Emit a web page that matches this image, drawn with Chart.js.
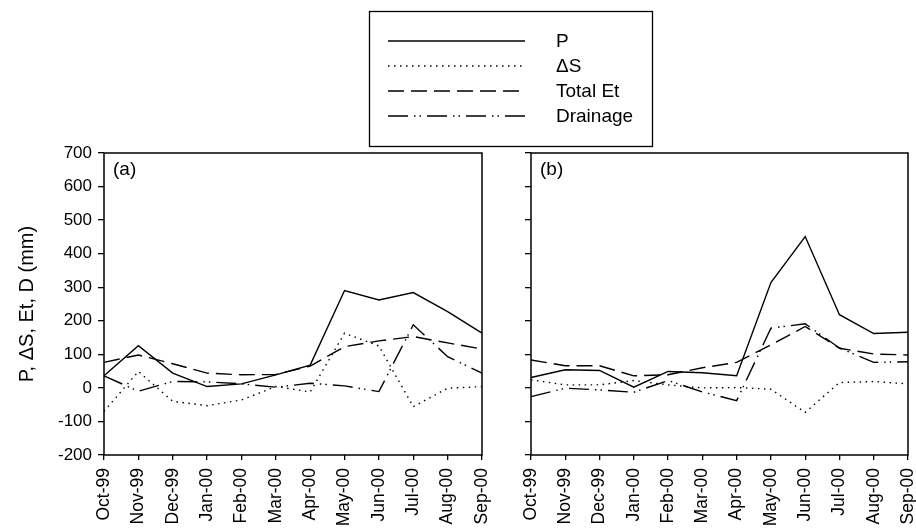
<!DOCTYPE html>
<html>
<head>
<meta charset="utf-8">
<script src="https://cdn.jsdelivr.net/npm/chart.js@4/dist/chart.umd.min.js"></script>
<style>
  html, body { margin: 0; padding: 0; background: #fff; }
  #wrap { position: relative; width: 916px; height: 528px; }
  #wrap canvas { position: absolute; left: 0; top: 0; }
</style>
</head>
<body>
<div id="wrap">
  <canvas id="ca" width="916" height="528"></canvas>
  <canvas id="cb" width="916" height="528"></canvas>
</div>
<script>
// ---- data ----
const months = ['Oct-99','Nov-99','Dec-99','Jan-00','Feb-00','Mar-00','Apr-00','May-00','Jun-00','Jul-00','Aug-00','Sep-00'];
const yTicks = [-200,-100,0,100,200,300,400,500,600,700];
const seriesNames = ['P', '\u0394S', 'Total Et', 'Drainage'];

const aP  = [36, 126, 44, 4, 12, 39, 68, 290, 262, 284, 227, 163];
const aDS = [-70, 49, -40, -53, -36, 4, -12, 163, 125, -56, -1, 4];
const aEt = [76, 98, 72, 44, 39, 40, 65, 123, 140, 153, 134, 116];
const aD  = [36, -10, 19, 18, 12, 2, 14, 6, -11, 188, 93, 44];

const bP  = [31, 54, 52, 2, 49, 45, 36, 314, 451, 218, 162, 166];
const bDS = [24, 9, 9, 22, 9, 0, 1, -4, -73, 16, 19, 12];
const bEt = [83, 66, 66, 36, 39, 60, 76, 128, 183, 118, 101, 98];
const bD  = [-26, -1, -6, -13, 22, -12, -38, 178, 191, 119, 76, 78];

// ---- styles ----
const dashes = [[], [1.5, 4.5], [16, 7], [20, 6, 1.5, 4, 1.5, 6]];
const LW = 1.4;
const FONT = "'Liberation Sans', Arial, sans-serif";

function makeDatasets(arrs) {
  return arrs.map((d, i) => ({
    label: seriesNames[i],
    data: d,
    borderColor: '#000',
    borderWidth: LW,
    borderDash: dashes[i],
    pointRadius: 0,
    fill: false,
    tension: 0
  }));
}

const framePlugin = {
  id: 'frame',
  afterDraw(chart, args, opts) {
    const {ctx, chartArea: a} = chart;
    ctx.save();
    ctx.strokeStyle = '#000';
    ctx.lineWidth = 1.5;
    ctx.setLineDash([]);
    ctx.strokeRect(a.left, a.top, a.right - a.left, a.bottom - a.top);
    ctx.fillStyle = '#000';
    ctx.font = '19px ' + FONT;
    ctx.textBaseline = 'middle';
    ctx.textAlign = 'left';
    ctx.fillText(opts.panel, a.left + 9, a.top + 17);
    if (opts.legend) {
      ctx.lineWidth = 1.3;
      ctx.strokeRect(369.5, 11.5, 283, 135);
      const rows = [41, 66, 91, 116];
      chart.data.datasets.forEach((ds, i) => {
        ctx.save();
        ctx.lineWidth = LW;
        ctx.setLineDash(dashes[i]);
        ctx.beginPath();
        ctx.moveTo(388, rows[i]);
        ctx.lineTo(525, rows[i]);
        ctx.stroke();
        ctx.restore();
        ctx.fillText(ds.label, 556, rows[i] + 1);
      });
    }
    ctx.restore();
  }
};

function makeChart(id, arrs, cfg) {
  return new Chart(document.getElementById(id), {
    type: 'line',
    data: { labels: months, datasets: makeDatasets(arrs) },
    plugins: [framePlugin],
    options: {
      responsive: false,
      animation: false,
      devicePixelRatio: 1,
      layout: { padding: { left: 0, top: 153, right: cfg.right, bottom: 0 } },
      plugins: {
        legend: { display: false },
        tooltip: { enabled: false },
        frame: { panel: cfg.panel, legend: cfg.legend }
      },
      scales: {
        x: {
          type: 'category',
          offset: false,
          border: { display: false },
          grid: { display: true, drawOnChartArea: false, drawTicks: true, tickLength: 5, color: '#000', lineWidth: 1.3 },
          ticks: {
            autoSkip: false, maxRotation: 90, minRotation: 90, padding: 8,
            color: '#000', font: { family: FONT, size: 17.5 }
          },
          afterFit(s) { s.height = 528 - 455; s.paddingLeft = 0; s.paddingRight = 0; }
        },
        y: {
          min: -200, max: 700,
          border: { display: false },
          afterBuildTicks(s) { s.ticks = yTicks.map(v => ({ value: v })); },
          grid: { display: true, drawOnChartArea: false, drawTicks: true, tickLength: 6, color: '#000', lineWidth: 1.3 },
          ticks: {
            display: cfg.showY, padding: 6, color: '#000',
            font: { family: FONT, size: 17 }
          },
          title: {
            display: cfg.showY, text: 'P, \u0394S, Et, D (mm)', color: '#000',
            font: { family: FONT, size: 20 }, padding: { top: 15, bottom: 0 }
          },
          afterFit(s) { s.width = cfg.yw; s.paddingTop = 0; s.paddingBottom = 0; }
        }
      }
    }
  });
}

makeChart('ca', [aP, aDS, aEt, aD], { right: 916 - 482, yw: 104, showY: true, panel: '(a)', legend: true });
makeChart('cb', [bP, bDS, bEt, bD], { right: 916 - 908, yw: 531, showY: false, panel: '(b)', legend: false });
</script>
</body>
</html>
